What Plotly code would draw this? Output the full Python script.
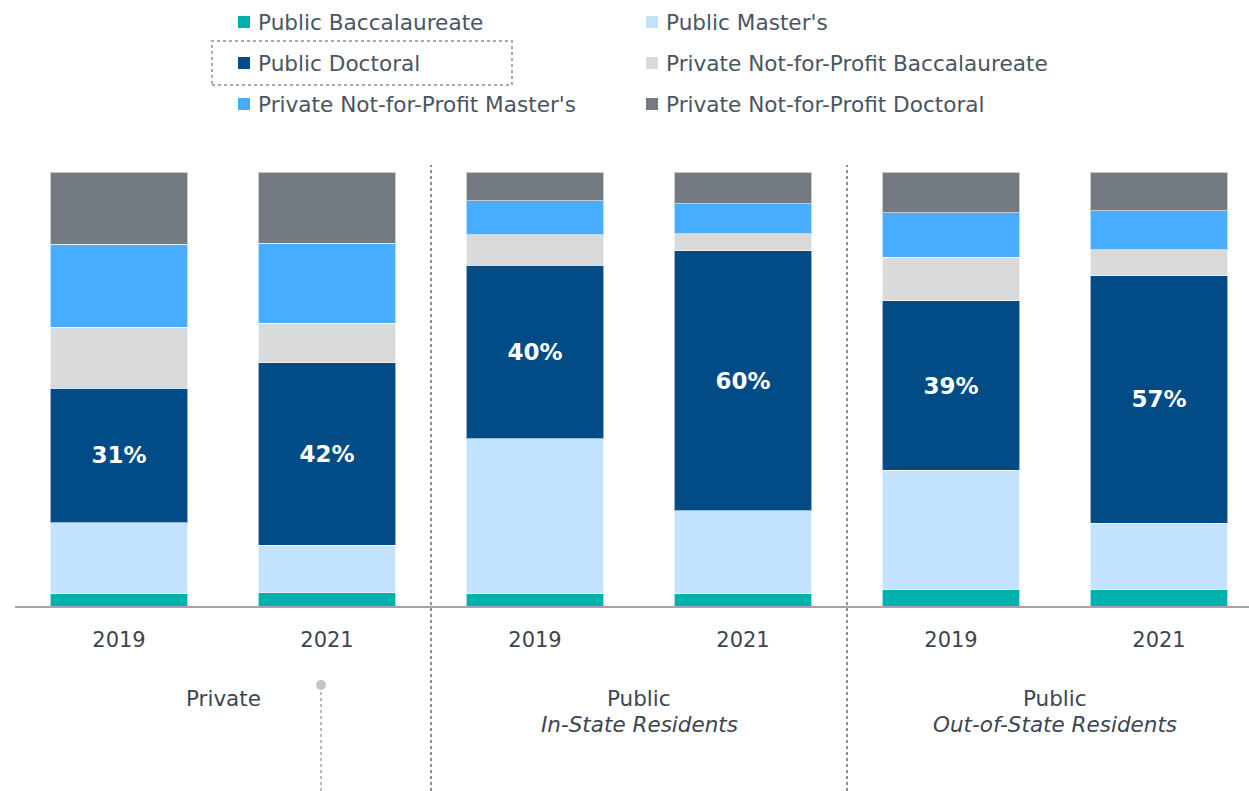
import plotly.graph_objects as go

# Share of students by institution type, stacked to 100%
positions = [0, 1, 2, 3, 4, 5]
years = ["2019", "2021", "2019", "2021", "2019", "2021"]
group_titles = ["Private", "Public", "Public"]
group_subtitles = ["", "In-State Residents", "Out-of-State Residents"]

public_bacc = [2.8, 3.0, 2.8, 2.8, 3.9, 3.9]
public_masters = [16.4, 11.0, 35.7, 19.1, 27.4, 15.2]
public_doctoral = [31, 42, 40, 60, 39, 57]
private_bacc = [14.0, 9.2, 7.1, 3.9, 10.1, 6.0]
private_masters = [19.1, 18.4, 7.8, 6.9, 10.2, 9.0]
private_doctoral = [16.7, 16.4, 6.6, 7.3, 9.4, 8.9]

series = [
    ("Public Baccalaureate", public_bacc, "#02b1ae"),
    ("Public Master's", public_masters, "#c2e2fd"),
    ("Public Doctoral", public_doctoral, "#014b87"),
    ("Private Not-for-Profit Baccalaureate", private_bacc, "#d9dadc"),
    ("Private Not-for-Profit Master's", private_masters, "#48adff"),
    ("Private Not-for-Profit Doctoral", private_doctoral, "#737a82"),
]

W, H = 1249, 791
L, T, R, B = 15, 172, 0, 185
PW, PH = W - L - R, H - T - B


def px_x(px):
    return (px - L) / PW


def px_y(py):
    return (H - B - py) / PH


TEXT = "#4a5560"
DARK = "#3c4650"
FONT = "DejaVu Sans"

fig = go.Figure()
for name, vals, color in series:
    kw = {}
    if name == "Public Doctoral":
        kw = dict(
            text=[f"{v:.0f}%" for v in vals],
            textposition="inside",
            insidetextanchor="middle",
            textangle=0,
            textfont=dict(color="white", size=23, family=FONT, weight="bold"),
        )
    fig.add_trace(go.Bar(
        x=positions, y=vals, name=name, width=0.663,
        marker=dict(color=color, line=dict(color="rgba(255,255,255,0.6)", width=1)),
        showlegend=False, hoverinfo="skip", **kw,
    ))

shapes = []
annotations = []

# Legend drawn as squares plus labels in two columns
col_sq = [238, 646]
col_tx = [256, 664]
rows = [22, 63, 104]
for i, (name, _, color) in enumerate(series):
    c, r = i % 2, i // 2
    shapes.append(dict(type="rect", xref="paper", yref="paper",
                       x0=px_x(col_sq[c]), x1=px_x(col_sq[c] + 12),
                       y0=px_y(rows[r] + 6), y1=px_y(rows[r] - 6),
                       fillcolor=color, line=dict(width=0)))
    annotations.append(dict(xref="paper", yref="paper", x=px_x(col_tx[c]), y=px_y(rows[r]),
                            text=name, showarrow=False, xanchor="left", yanchor="middle",
                            font=dict(size=21.6, color=TEXT, family=FONT)))

# Dotted focus box around one legend entry
shapes.append(dict(type="rect", xref="paper", yref="paper",
                   x0=px_x(212), x1=px_x(512), y0=px_y(85), y1=px_y(41),
                   line=dict(color="#a9a9a9", width=2, dash="dot")))

# Group separators
for xs in [1.5, 3.5]:
    shapes.append(dict(type="line", xref="x", yref="paper", x0=xs, x1=xs,
                       y0=px_y(H), y1=px_y(165),
                       line=dict(color="#8a8d92", width=2, dash="dot")))

# Pin marker beneath the first group
shapes.append(dict(type="line", xref="paper", yref="paper", x0=px_x(321), x1=px_x(321),
                   y0=px_y(H), y1=px_y(690),
                   line=dict(color="#b8bcc2", width=2, dash="dot")))
shapes.append(dict(type="circle", xref="paper", yref="paper",
                   x0=px_x(316), x1=px_x(326), y0=px_y(690), y1=px_y(680),
                   fillcolor="#c0c3c8", line=dict(width=0)))

# Group labels (title line plus italic subtitle)
for gx, title, sub in zip([0.5, 2.5, 4.5], group_titles, group_subtitles):
    annotations.append(dict(xref="x", yref="paper", x=gx, y=px_y(698),
                            text=title, showarrow=False, xanchor="center", yanchor="middle",
                            font=dict(size=21.5, color=DARK, family=FONT)))
    if sub:
        annotations.append(dict(xref="x", yref="paper", x=gx, y=px_y(724),
                                text=f"<i>{sub}</i>", showarrow=False, xanchor="center",
                                yanchor="middle",
                                font=dict(size=21.5, color=DARK, family=FONT)))

fig.update_layout(
    barmode="stack",
    width=W, height=H,
    margin=dict(l=L, r=R, t=T, b=B),
    paper_bgcolor="white", plot_bgcolor="white",
    font=dict(family=FONT, color=TEXT),
    shapes=shapes, annotations=annotations,
    xaxis=dict(range=[-0.5, -0.5 + PW / 208], tickvals=positions, ticktext=years,
               showgrid=False, zeroline=False, showline=True, linecolor="#a3a5a8",
               linewidth=2, ticks="", ticklabelstandoff=14,
               tickfont=dict(size=21, color=DARK, family=FONT)),
    yaxis=dict(range=[0, 100], visible=False),
)

fig.write_html("out.html")
